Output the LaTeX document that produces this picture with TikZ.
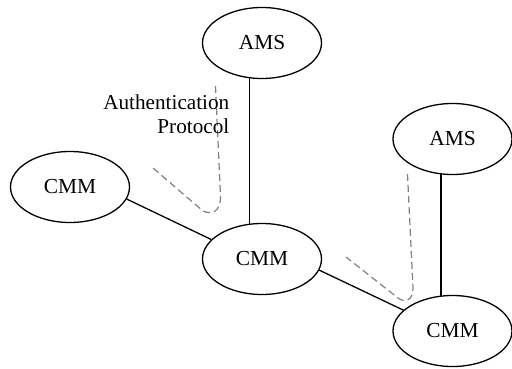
\documentclass[tikz,border=0pt]{standalone}
\usepackage{fontspec}
\setmainfont{Liberation Serif}
\usetikzlibrary{shapes.geometric}
\begin{document}
\begin{tikzpicture}[x=1pt,y=-1pt,
  unit/.style={ellipse,draw,line width=1.3pt,minimum width=119pt,minimum height=71pt,
    inner sep=0pt,font=\fontsize{21.4}{24}\selectfont},
  link/.style={line width=1.3pt},
  proto/.style={draw=black!50,line width=1.2pt,dash pattern=on 7pt off 4pt}]
  \useasboundingbox (0,0) rectangle (512,369);

  % management servers and management modules
  \node[unit] (amsA) at (262,43) {AMS};
  \node[unit] (cmmL) at (70,187) {CMM};
  \node[unit] (cmmC) at (262,259) {CMM};
  \node[unit] (amsB) at (452.5,139) {AMS};
  \node[unit] (cmmR) at (452.5,331) {CMM};

  % physical links
  \draw[link] (amsA.251) -- (cmmC.109);
  \draw[link] (cmmL.-12) -- (cmmC.159);
  \draw[link] (cmmC.-11) -- (cmmR.157);
  \draw[link] (amsB.252) -- (cmmR.108);

  % authentication exchanges
  \coordinate (pA0) at (215.5,86);
  \coordinate (pA1) at (220.5,196);
  \coordinate (pA2) at (203,211);
  \coordinate (pA3) at (153,168);
  \draw[proto] (pA0) -- (pA1) .. controls (220.5,212) and (212,215) .. (pA2) -- (pA3);

  \coordinate (pB0) at (407.5,174);
  \coordinate (pB1) at (413,288);
  \coordinate (pB2) at (398,298);
  \coordinate (pB3) at (346,257);
  \draw[proto] (pB0) -- (pB1) .. controls (413,301) and (405,303) .. (pB2) -- (pB3);

  \node[anchor=base east,align=right,inner sep=0pt,
    font=\fontsize{21.2}{24}\selectfont] (proto) at (229.5,133.3)
    {Authentication\\Protocol};
\end{tikzpicture}
\end{document}
